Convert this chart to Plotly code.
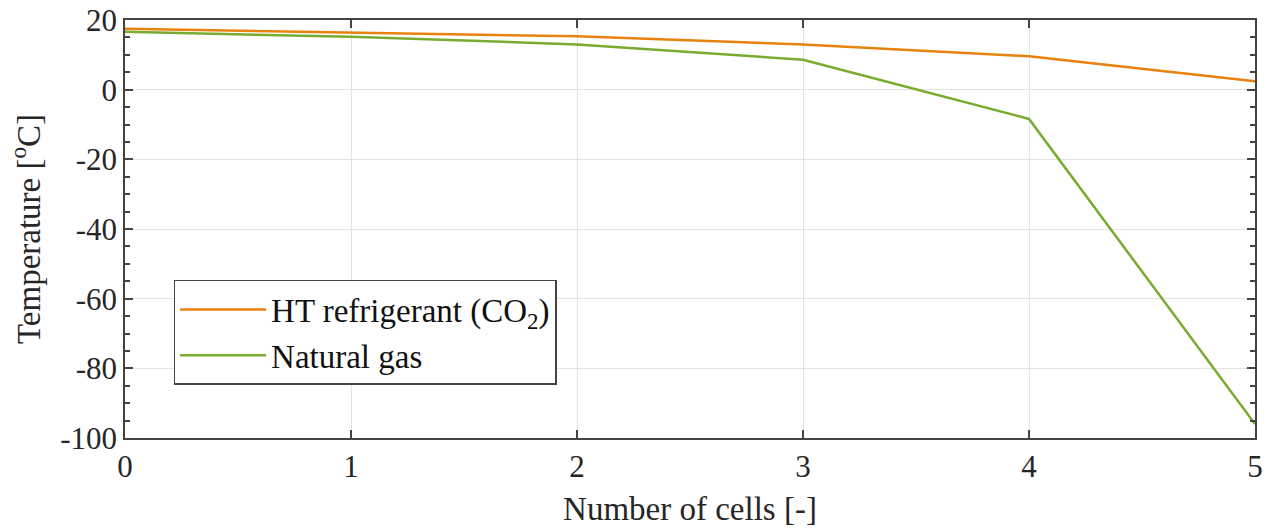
import plotly.graph_objects as go

cells = [0, 1, 2, 3, 4, 5]
co2_temp = [17.5, 16.5, 15.3, 13.0, 9.6, 2.4]
ng_temp = [16.6, 15.2, 13.0, 8.6, -8.4, -96.0]
series_names = ["HT refrigerant (CO<sub>2</sub>)", "Natural gas"]
x_ticks = [0, 1, 2, 3, 4, 5]
y_ticks = [-100, -80, -60, -40, -20, 0, 20]
y_ticktext = ["-100", "-80", "-60", "-40", "-20", "0", "20"]

FONT = "Liberation Serif"

fig = go.Figure()
fig.add_trace(go.Scatter(x=cells, y=co2_temp, mode="lines", name=series_names[0],
                         line=dict(color="#E8820C", width=2.5)))
fig.add_trace(go.Scatter(x=cells, y=ng_temp, mode="lines", name=series_names[1],
                         line=dict(color="#77AC30", width=2.5)))

axis_common = dict(showline=True, linecolor="#444444", linewidth=1.5, mirror="ticks",
                   ticks="inside", ticklen=8, tickcolor="#444444", tickwidth=1.5,
                   showgrid=True, gridcolor="#E3E3E3", gridwidth=1, zeroline=False,
                   automargin=False,
                   tickfont=dict(family=FONT, size=31, color="#262626"))

fig.update_layout(
    width=1273, height=529,
    margin=dict(l=125, r=18, t=20, b=91, autoexpand=False),
    plot_bgcolor="white", paper_bgcolor="white",
    font=dict(family=FONT, color="#262626"),
    xaxis=dict(range=[0, 5], tickvals=x_ticks,
               title=dict(text="Number of cells [-]", font=dict(family=FONT, size=33, color="#262626"), standoff=14),
               **axis_common),
    yaxis=dict(range=[-100, 20], tickvals=y_ticks, ticktext=y_ticktext,
               minor=dict(ticks="inside", ticklen=5, dtick=5, tickcolor="#444444", showgrid=False),
               title=dict(text="Temperature [<sup>o</sup>C]", font=dict(family=FONT, size=33, color="#262626"), standoff=10),
               **axis_common),
    legend=dict(x=0.043, y=0.378, xanchor="left", yanchor="top",
                bgcolor="white", bordercolor="#444444", borderwidth=1.5,
                font=dict(family=FONT, size=33, color="#111111"),
                itemwidth=86, tracegroupgap=0),
    showlegend=True,
)

fig.write_html("out.html", config={"displayModeBar": False},
               post_script="document.body.style.margin='0';document.body.style.overflow='hidden';")
